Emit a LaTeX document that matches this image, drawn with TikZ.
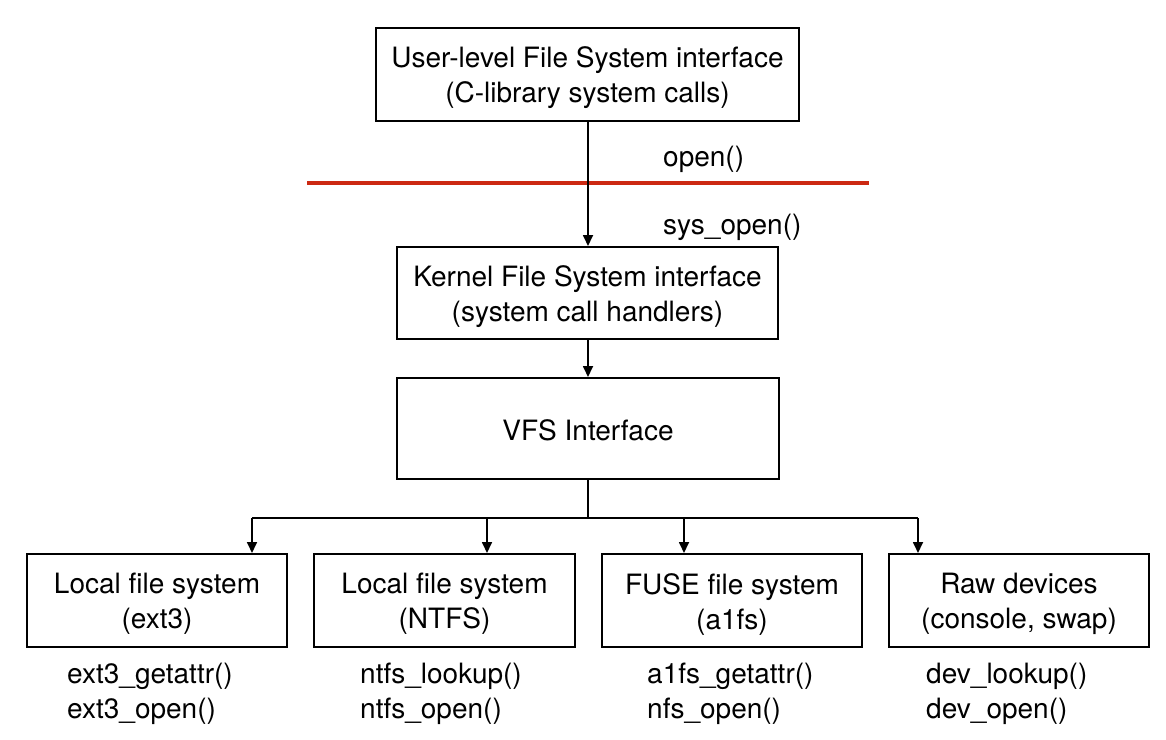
\documentclass[tikz,border=0pt]{standalone}
\usepackage{fontspec}
\setmainfont{TeX Gyre Heros}
\usetikzlibrary{arrows.meta}
\definecolor{redline}{RGB}{204,41,18}
\begin{document}
\begin{tikzpicture}[x=1pt,y=-1pt,
  every node/.style={font=\fontsize{28}{35}\selectfont},
  box/.style={draw=black,line width=2pt,inner sep=0pt},
  boxtext/.style={align=center,inner sep=0pt,yshift=-3.5pt},
  conn/.style={line width=1.7pt,draw=black},
  arr/.style={conn,-{Triangle[length=11pt,width=10pt]}},
  lbl/.style={align=left,anchor=west,inner sep=0pt,yshift=-2.5pt}]
\useasboundingbox (0,0) rectangle (1166,739);
% boxes
\node[box,minimum width=423pt,minimum height=93pt,
  label={[boxtext]center:{User-level File System interface\\(C-library system calls)}}] (user) at (587.5,74.5) {};
\node[box,minimum width=381pt,minimum height=92pt,
  label={[boxtext]center:{Kernel File System interface\\(system call handlers)}}] (kern) at (587.5,293) {};
\node[box,minimum width=382pt,minimum height=101pt,
  label={[boxtext,yshift=1.5pt]center:{VFS Interface}}] (vfs) at (588,428.5) {};
\node[box,minimum width=260pt,minimum height=93pt,
  label={[boxtext]center:{Local file system\\(ext3)}}] (b1) at (157,600.5) {};
\node[box,minimum width=261pt,minimum height=93pt,
  label={[boxtext]center:{Local file system\\(NTFS)}}] (b2) at (444.5,600.5) {};
\node[box,minimum width=260pt,minimum height=93pt,
  label={[boxtext]center:{FUSE file system\\(a1fs)}}] (b3) at (732,600.5) {};
\node[box,minimum width=260pt,minimum height=93pt,
  label={[boxtext]center:{Raw devices\\(console, swap)}}] (b4) at (1019,600.5) {};
% red boundary
\coordinate (rl) at (307,183);
\coordinate (rr) at (869,183);
\draw[redline,line width=4pt] (rl) -- (rr);
% labels
\node[lbl] (lopen) at (663,157) {open()};
\node[lbl] (lsys) at (663,225) {sys\_open()};
% connectors
\draw[arr] (user.south -| 588,0) -- (kern.north -| 588,0);
\draw[arr] (kern.south -| 588,0) -- (vfs.north -| 588,0);
\coordinate (split) at (588,518);
\coordinate (a1) at (252,518);
\coordinate (a2) at (487,518);
\coordinate (a3) at (684,518);
\coordinate (a4) at (918,518);
\draw[conn] (vfs.south -| split) -- (split);
\draw[conn] (a1) -- (a4);
\draw[arr] (a1) -- (b1.north -| a1);
\draw[arr] (a2) -- (b2.north -| a2);
\draw[arr] (a3) -- (b3.north -| a3);
\draw[arr] (a4) -- (b4.north -| a4);
% function lists
\node[lbl] (f1) at (67,691) {ext3\_getattr()\\ext3\_open()};
\node[lbl] (f2) at (360,691) {ntfs\_lookup()\\ntfs\_open()};
\node[lbl] (f3) at (647,691) {a1fs\_getattr()\\nfs\_open()};
\node[lbl] (f4) at (926,691) {dev\_lookup()\\dev\_open()};
\end{tikzpicture}
\end{document}
